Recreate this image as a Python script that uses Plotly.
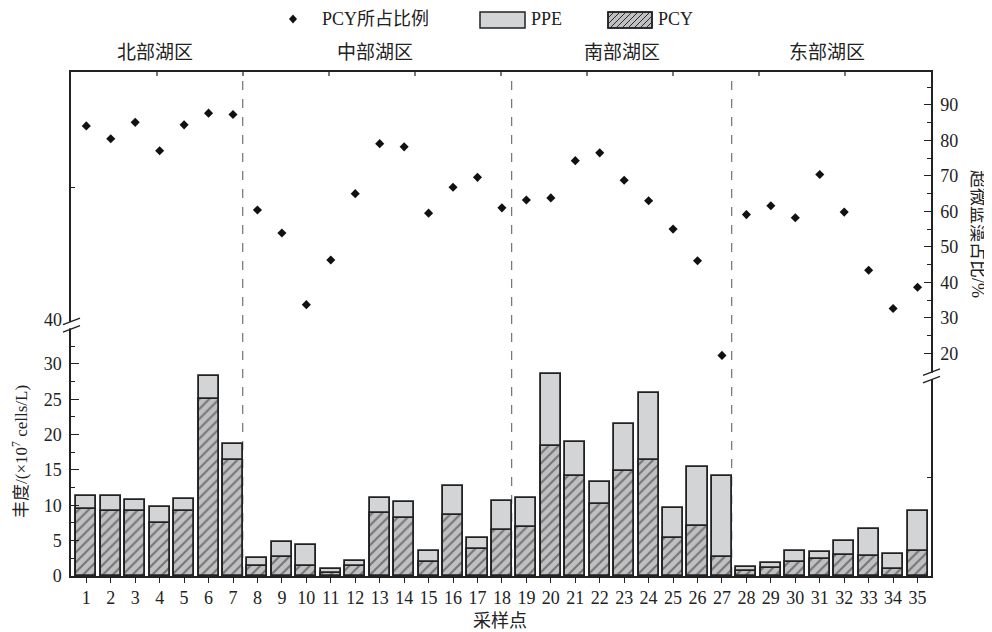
import plotly.graph_objects as go

sites = list(range(1, 36))
ppe = [11.32, 11.37, 10.80, 9.71, 10.90, 28.30, 18.72,
       2.50, 4.86, 4.34, 0.94, 2.12, 11.08, 10.52, 3.54, 12.78, 5.42, 10.66,
       11.08, 28.54, 19.00, 13.25, 21.55, 25.85, 9.62, 15.38, 14.10,
       1.32, 1.84, 3.49, 3.40, 5.00, 6.70, 3.16, 9.24]
pcy = [9.52, 9.24, 9.24, 7.55, 9.24, 25.05, 16.46,
       1.46, 2.64, 1.42, 0.38, 1.42, 8.87, 8.26, 2.03, 8.63, 3.77, 6.51,
       6.98, 18.35, 14.20, 10.14, 14.86, 16.37, 5.33, 7.08, 2.69,
       0.71, 1.13, 2.03, 2.41, 2.97, 2.88, 0.99, 3.54]
ratio = [84.1, 80.5, 85.1, 77.1, 84.4, 87.7, 87.3,
         60.4, 53.9, 33.7, 46.3, 65.0, 79.1, 78.2, 59.5, 66.8, 69.6, 61.0,
         63.2, 63.8, 74.3, 76.5, 68.8, 63.0, 55.0, 46.1, 19.4,
         59.1, 61.6, 58.2, 70.4, 59.8, 43.4, 32.6, 38.6]
regions = ["北部湖区", "中部湖区", "南部湖区", "东部湖区"]
region_bounds = [7.4, 18.4, 27.4]
left_ticks = [0, 5, 10, 15, 20, 25, 30]
right_ticks = [20, 30, 40, 50, 60, 70, 80, 90]

FONT = "Liberation Serif, Noto Sans CJK SC, serif"
INK = "#222222"

OFF = 8
W, H = 992 - OFF, 632 - OFF
L, R, T, B = 71, 931, 72, 576
def xp(px):
    return (px - L) / (R - L)
def yp(py):
    return (B - py) / (B - T)

fig = go.Figure()
fig.add_trace(go.Bar(x=sites, y=ppe, width=0.82, name="PPE",
                     marker=dict(color="#d3d4d6", line=dict(color=INK, width=1.8))))
fig.add_trace(go.Bar(x=sites, y=pcy, width=0.82, name="PCY",
                     marker=dict(color="#c0c0c2", line=dict(color=INK, width=1.8),
                                 pattern=dict(shape="/", size=7, solidity=0.3,
                                              fgcolor="#2a2a2a", bgcolor="#c0c0c2"))))
fig.add_trace(go.Scatter(x=sites, y=ratio, yaxis="y2", mode="markers", name="PCY所占比例",
                         marker=dict(symbol="diamond", size=7, color="#111111")))

shapes = []
for xb in region_bounds:
    shapes.append(dict(type="line", xref="x", yref="paper", x0=xb, x1=xb, y0=0, y1=1,
                       line=dict(color="#555555", width=1, dash="dash"), layer="below"))
for k in range(1, 10):
    shapes.append(dict(type="line", xref="paper", yref="paper",
                       ysizemode="pixel", yanchor=1, x0=k / 10, x1=k / 10, y0=0, y1=-4,
                       line=dict(color=INK, width=1.2)))

def axis_break(xanchor, yref, yanchor):
    out = []
    out.append(dict(type="rect", xref="paper", yref=yref, xsizemode="pixel", ysizemode="pixel",
                    xanchor=xanchor, yanchor=yanchor, x0=-3, x1=3, y0=-3.3, y1=3.3,
                    fillcolor="white", line=dict(width=0)))
    out.append(dict(type="line", xref="paper", yref=yref, xsizemode="pixel", ysizemode="pixel",
                    xanchor=xanchor, yanchor=yanchor, x0=-8, x1=9, y0=0.5, y1=7,
                    line=dict(color=INK, width=1.4)))
    out.append(dict(type="line", xref="paper", yref=yref, xsizemode="pixel", ysizemode="pixel",
                    xanchor=xanchor, yanchor=yanchor, x0=-8, x1=9, y0=-7, y1=-0.5,
                    line=dict(color=INK, width=1.4)))
    return out

shapes += axis_break(0, "y", 35.5)
shapes += axis_break(1, "y2", 13.6)

def rect_px(x0, y0, x1, y1, fill):
    return dict(type="rect", xref="paper", yref="paper", x0=xp(x0), x1=xp(x1),
                y0=yp(y1), y1=yp(y0), fillcolor=fill, line=dict(color=INK, width=1.5))

shapes.append(rect_px(480, 12, 525, 28, "#d3d4d6"))
shapes.append(rect_px(608, 12, 652, 28, "#c0c0c2"))
bx0, by0, bx1, by1 = 608, 12, 652, 28
hh = by1 - by0
c = bx0 - hh
while c < bx1:
    sx0, sy0 = c, by1
    sx1, sy1 = c + hh, by0
    if sx0 < bx0:
        sy0 = by1 - (bx0 - sx0)
        sx0 = bx0
    if sx1 > bx1:
        sy1 = by0 + (sx1 - bx1)
        sx1 = bx1
    if sx1 > sx0:
        shapes.append(dict(type="line", xref="paper", yref="paper",
                           x0=xp(sx0), x1=xp(sx1), y0=yp(sy0), y1=yp(sy1),
                           line=dict(color="#2a2a2a", width=1)))
    c += 6
shapes.append(rect_px(608, 12, 652, 28, "rgba(0,0,0,0)"))
shapes.append(dict(type="path", xref="paper", yref="paper", xsizemode="pixel", ysizemode="pixel",
                   xanchor=xp(293), yanchor=yp(19), path="M0,4.5 L4,0 L0,-4.5 L-4,0 Z",
                   fillcolor="#111111", line=dict(width=0)))

annotations = []
def txt(text, x, y, size=18, xanchor="center", angle=0):
    return dict(text=text, xref="paper", yref="paper", x=xp(x), y=yp(y), xanchor=xanchor,
                yanchor="middle", showarrow=False, textangle=angle,
                font=dict(family=FONT, size=size, color=INK))

annotations.append(txt("PCY所占比例", 320, 19, xanchor="left"))
annotations.append(txt("PPE", 529, 19, xanchor="left"))
annotations.append(txt("PCY", 656, 19, xanchor="left"))
region_centers = [155, 375, 622, 827]
for name, cx in zip(regions, region_centers):
    annotations.append(txt(name, cx, 53, size=19))
annotations.append(dict(text="40", xref="paper", yref="y", x=0, y=36.2, xanchor="right",
                        yanchor="middle", xshift=-7, showarrow=False,
                        font=dict(family=FONT, size=18, color=INK)))
annotations.append(txt("丰度/(×10<sup>7</sup> cells/L)", 20, 452, size=17, angle=-90))
annotations.append(txt("超微蓝藻占比/%", 978, 234, size=18, angle=90))
annotations.append(txt("采样点", 500, 621, size=18))

fig.update_layout(
    width=W, height=H,
    margin=dict(l=L - OFF, r=992 - R, t=T - OFF, b=632 - B, pad=0),
    plot_bgcolor="white", paper_bgcolor="white",
    barmode="overlay", showlegend=False, bargap=0,
    font=dict(family=FONT, size=18, color=INK),
    xaxis=dict(range=[0.374, 35.55], tickvals=sites, ticks="outside", ticklen=5,
               tickwidth=1.2, tickcolor=INK, showline=True, linecolor=INK, linewidth=1.5,
               mirror=True, showgrid=False, zeroline=False,
               tickfont=dict(family=FONT, size=18, color=INK)),
    yaxis=dict(range=[0, 71.3], tickvals=left_ticks, ticks="inside", ticklen=8,
               tickwidth=1.2, tickcolor=INK, showline=True, linecolor=INK, linewidth=1.5,
               showgrid=False, zeroline=False, ticklabelstandoff=4,
               minor=dict(tickvals=[2.5, 7.5, 12.5, 17.5, 22.5, 27.5, 32.5, 55], ticks="inside",
                          ticklen=4, tickwidth=1.2, tickcolor=INK, showgrid=False),
               tickfont=dict(family=FONT, size=18, color=INK)),
    yaxis2=dict(range=[-42.8, 99.3], overlaying="y", side="right", tickvals=right_ticks,
                ticks="inside", ticklen=7, tickwidth=1.2, tickcolor=INK, showline=True,
                linecolor=INK, linewidth=1.5, showgrid=False, zeroline=False,
                ticklabelstandoff=4,
                minor=dict(tickvals=[25, 35, 45, 55, 65, 75, 85, 95, -15], ticks="inside",
                           ticklen=4, tickwidth=1.2, tickcolor=INK, showgrid=False),
                tickfont=dict(family=FONT, size=18, color=INK)),
    shapes=shapes, annotations=annotations,
)

fig.write_html("out.html")
